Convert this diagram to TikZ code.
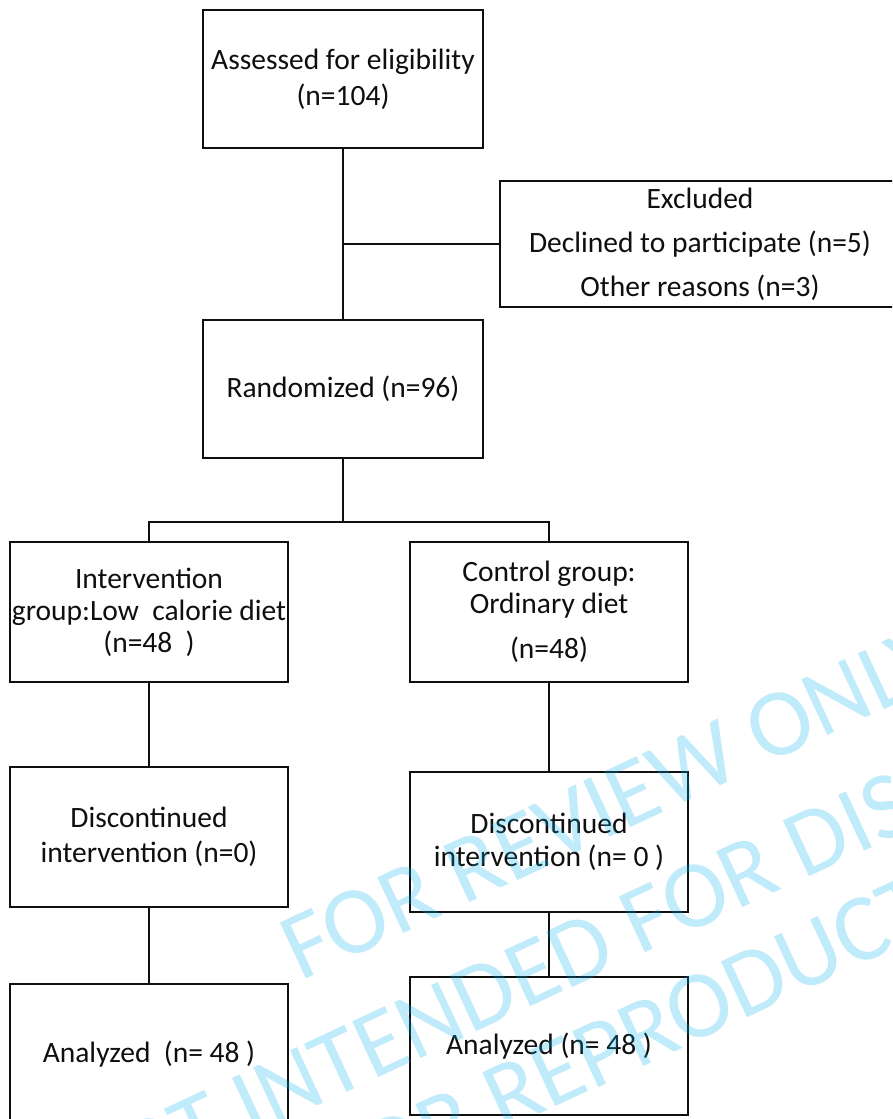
\documentclass[tikz,border=0pt]{standalone}
\usepackage{fontspec}
\setmainfont{Carlito}
\usepackage{xcolor}
\usepackage{tikz}
\usetikzlibrary{positioning,calc}
\definecolor{watermarkcyan}{RGB}{0, 176, 240}
\definecolor{boxblack}{RGB}{15, 15, 15}

\tikzset{
    flowbox/.style={draw=boxblack, line width=2pt, fill=none, align=center,
        minimum width=278pt, minimum height=138pt, inner sep=0pt, text=boxblack,
        font=\fontsize{29.5}{36}\selectfont},
    flowline/.style={draw=boxblack, line width=2pt},
    stamptext/.style={anchor=base west, rotate=25, inner sep=0pt,
        text=watermarkcyan, text opacity=0.25, font=\fontsize{96}{96}\selectfont}
}

\begin{document}
\begin{tikzpicture}[x=1pt, y=-1pt]
    % Page
    \useasboundingbox (0,0) rectangle (892,1119);
    \fill[white] (0,0) rectangle (892,1119);
    \clip (0,0) rectangle (892,1119);

    % Enrolment
    \node[flowbox, minimum width=280pt] (assess) at (343,79) {Assessed for eligibility\\(n=104)};
    \node[flowbox, minimum width=400pt, minimum height=126pt] (excl) at (700,244)
        {Excluded\\[8pt]Declined to participate (n=5)\\[8pt]Other reasons (n=3)};
    \node[flowbox, minimum width=280pt] (rand) at (343,389) {Randomized (n=96)};

    % Allocation
    \node[flowbox, minimum height=140pt, font=\fontsize{29.5}{32}\selectfont] (interv) at (149,612)
        {Intervention\\group:Low\ \ calorie diet\\(n=48\ \ )};
    \node[flowbox, minimum height=140pt, font=\fontsize{29.5}{32}\selectfont] (ctrl) at (549,612)
        {Control group:\\Ordinary diet\\[13pt](n=48)};

    % Follow-up
    \node[flowbox, minimum height=140pt, font=\fontsize{29.5}{35}\selectfont] (discL) at (149,837)
        {Discontinued\\intervention (n=0)};
    \node[flowbox, minimum height=140pt, font=\fontsize{29.5}{33}\selectfont] (discR) at (549,842)
        {Discontinued\\intervention (n= 0 )};

    % Analysis
    \node[flowbox, minimum height=140pt] (anaL) at (149,1054) {Analyzed\ \ (n= 48 )};
    \node[flowbox] (anaR) at (549,1046) {Analyzed (n= 48 )};

    % Connectors
    \coordinate (split) at (343,522);
    \draw[flowline] (assess.south) -- (rand.north);
    \draw[flowline] (excl.west) -- (excl.west -| assess.south);
    \draw[flowline] (rand.south) -- (split);
    \draw[flowline] (interv.north) -- (interv.north |- split) -- (ctrl.north |- split) -- (ctrl.north);
    \draw[flowline] (interv.south) -- (discL.north);
    \draw[flowline] (discL.south) -- (anaL.north);
    \draw[flowline] (ctrl.south) -- (discR.north);
    \draw[flowline] (discR.south) -- (anaR.north);

    % Watermark
    \node[stamptext] (stampA) at (300,982) {FOR REVIEW ONLY};
    \node[stamptext] (stampB) at (78,1218) {NOT INTENDED FOR DISTRIBUTION};
    \node[stamptext] (stampC) at (378,1190) {OR REPRODUCTION};
\end{tikzpicture}
\end{document}
